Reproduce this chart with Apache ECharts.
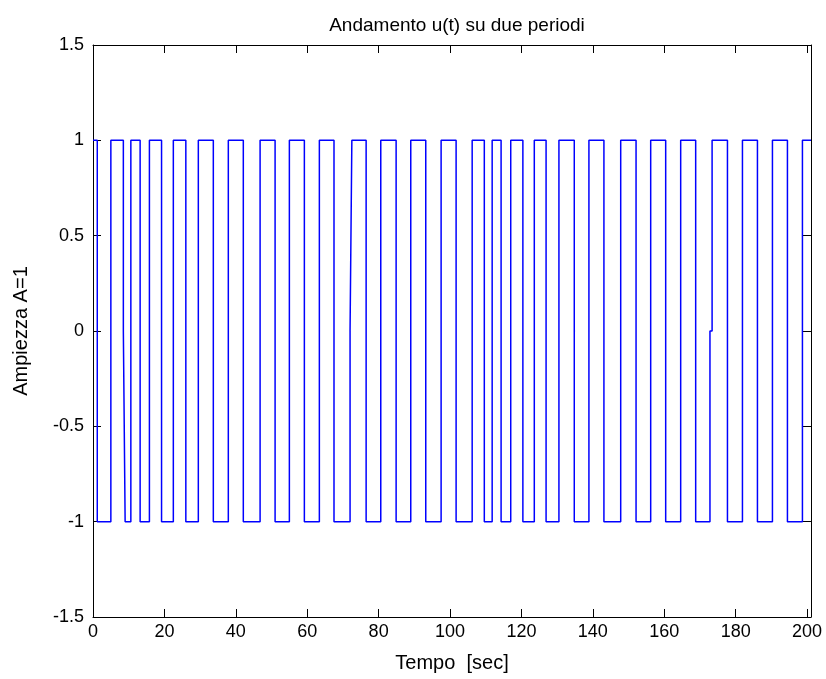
<!DOCTYPE html>
<html>
<head>
<meta charset="utf-8">
<script src="https://cdn.jsdelivr.net/npm/echarts@6/dist/echarts.min.js"></script>
<style>
html,body{margin:0;padding:0;background:#fff;}
#chart{width:826px;height:679px;}
</style>
</head>
<body>
<div id="chart"></div>
<script>
// ---- data ----
const titleText = 'Andamento u(t) su due periodi';
const xName = 'Tempo  [sec]';
const yName = 'Ampiezza A=1';
const xTicks = [0, 20, 40, 60, 80, 100, 120, 140, 160, 180, 200];
const yTicks = [-1.5, -1, -0.5, 0, 0.5, 1, 1.5];
const startLevel = 1;
// times (sec) at which u(t) switches, and the level it switches to
const switchTimes = [1.2, 5.0, 8.5, 9.0, 10.6, 13.2, 15.8, 19.2, 22.5, 26.0, 29.5, 33.7, 37.9, 42.1, 46.8, 51.0, 55.0, 59.2, 63.4, 67.5, 72.0, 72.5, 76.5, 80.6, 84.9, 89.0, 93.2, 97.5, 101.7, 106.2, 109.6, 111.8, 114.3, 117.0, 120.4, 123.6, 126.9, 130.5, 134.8, 138.9, 143.1, 147.8, 152.1, 156.2, 160.4, 164.6, 168.8, 172.8, 173.4, 177.7, 181.9, 186.1, 190.3, 194.5, 198.7];
const switchLevels = [-1, 1, 0, -1, 1, -1, 1, -1, 1, -1, 1, -1, 1, -1, 1, -1, 1, -1, 1, -1, 0, 1, -1, 1, -1, 1, -1, 1, -1, 1, -1, 1, -1, 1, -1, 1, -1, 1, -1, 1, -1, 1, -1, 1, -1, 1, -1, 0, 1, -1, 1, -1, 1, -1, 1];
const tEnd = 201.1;

// ---- build the step line ----
const lineData = [[0, startLevel]];
let cur = startLevel;
for (let i = 0; i < switchTimes.length; i++) {
  lineData.push([switchTimes[i], cur]);
  cur = switchLevels[i];
  lineData.push([switchTimes[i], cur]);
}
lineData.push([tEnd, cur]);

const FONT = "'Liberation Sans', Arial, sans-serif";
const chart = echarts.init(document.getElementById('chart'), null, {renderer: 'canvas'});
const xMin = xTicks[0], xMax = tEnd;
const yMin = yTicks[0], yMax = yTicks[yTicks.length - 1];
const axisLine = {show: true, onZero: false, lineStyle: {color: '#000', width: 1}};
const tickIn = {show: true, inside: true, length: 8, lineStyle: {color: '#000', width: 1}};
chart.setOption({
  animation: false,
  backgroundColor: '#fff',
  title: {
    text: titleText, left: 452, top: 11, textAlign: 'center',
    textStyle: {fontFamily: FONT, fontSize: 19, fontWeight: 'normal', color: '#000'}
  },
  grid: {left: 93, right: 15, top: 45, bottom: 62, show: false},
  xAxis: [{
    type: 'value', min: xMin, max: xMax, interval: 20, position: 'bottom',
    name: xName, nameLocation: 'middle', nameGap: 36,
    nameTextStyle: {fontFamily: FONT, fontSize: 20, color: '#000'},
    axisLine: axisLine, axisTick: tickIn,
    axisLabel: {fontFamily: FONT, fontSize: 18, color: '#000', margin: 6, showMaxLabel: false,
      formatter: v => (xTicks.indexOf(v) >= 0 ? String(v) : '')},
    splitLine: {show: false}
  }, {
    type: 'value', min: xMin, max: xMax, interval: 20, position: 'top',
    axisLine: axisLine, axisTick: tickIn, axisLabel: {show: false}, splitLine: {show: false}
  }],
  yAxis: [{
    type: 'value', min: yMin, max: yMax, interval: 0.5, position: 'left',
    name: yName, nameLocation: 'middle', nameGap: 62, nameRotate: 90,
    nameTextStyle: {fontFamily: FONT, fontSize: 20, color: '#000'},
    axisLine: axisLine, axisTick: tickIn,
    axisLabel: {fontFamily: FONT, fontSize: 18, color: '#000', margin: 9},
    splitLine: {show: false}
  }, {
    type: 'value', min: yMin, max: yMax, interval: 0.5, position: 'right',
    axisLine: axisLine, axisTick: tickIn, axisLabel: {show: false}, splitLine: {show: false}
  }],
  series: [{
    type: 'line', data: lineData, xAxisIndex: 0, yAxisIndex: 0,
    showSymbol: false, symbol: 'none',
    lineStyle: {color: '#0000ff', width: 1.5},
    silent: true
  }]
});
</script>
</body>
</html>
